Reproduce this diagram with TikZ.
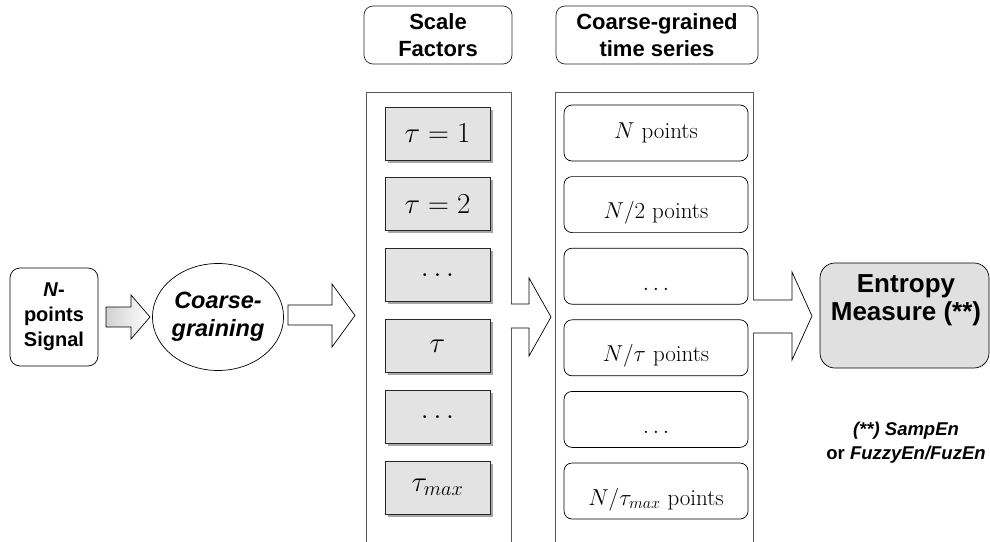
\RequirePackage{fix-cm}
\documentclass[tikz,border=0pt]{standalone}
\usepackage{fontspec}
\newfontfamily\arial{Liberation Sans}
\usetikzlibrary{shapes.geometric,shadows}

\begin{document}
\begin{tikzpicture}[x=1pt,y=-1pt,
  signalbox/.style={draw=black, rounded corners=10pt, line width=0.7pt,
    minimum width=88pt, minimum height=98pt, inner sep=0pt, align=center,
    font=\arial\bfseries\fontsize{20}{25}\selectfont},
  grainbox/.style={draw=black, ellipse, line width=0.7pt,
    minimum width=123pt, minimum height=107pt, inner sep=0pt, align=center,
    font=\arial\bfseries\itshape\fontsize{23.5}{28}\selectfont},
  titlebox/.style={draw=black!85, rounded corners=9pt, line width=0.7pt,
    minimum height=58pt, inner sep=0pt, align=center,
    font=\arial\bfseries\fontsize{22}{27}\selectfont},
  column/.style={draw=black!65, line width=1pt},
  scalebox/.style={draw=black!85, fill=black!11, line width=0.7pt,
    minimum width=105pt, minimum height=53pt, inner sep=0pt,
    drop shadow={shadow xshift=2.5pt, shadow yshift=-2.5pt, fill=black!35, opacity=1},
    font=\fontsize{29}{34}\selectfont},
  seriesbox/.style={draw=black, rounded corners=8pt, line width=0.7pt,
    minimum width=184pt, minimum height=56pt, inner sep=0pt},
  seriestext/.style={anchor=base, inner sep=0pt, font=\fontsize{23}{28}\selectfont},
  fatarrow/.style={draw=black, line width=0.7pt, line join=miter},
  entropybox/.style={draw=black, fill=black!12, rounded corners=15pt, line width=0.7pt,
    minimum width=169pt, minimum height=105pt, inner sep=0pt},
  boldtext/.style={align=center, inner sep=0pt}
]
\useasboundingbox (0,0) rectangle (990,541);

% input signal and coarse-graining step
\node[signalbox] (signal) at (54,317) {\textit{N}-\\points\\Signal};
\node[grainbox] (grain) at (218,317) {Coarse-\\graining};

% column headers
\node[titlebox, minimum width=148pt] (scaletitle) at (438,35) {Scale\\Factors};
\node[titlebox, minimum width=202pt] (seriestitle) at (657,35) {Coarse-grained\\time series};

% column frames (open at the bottom)
\draw[column] (366,545) -- (366,92) -- (511,92) -- (511,545);
\draw[column] (555,545) -- (555,92) -- (753,92) -- (753,545);

% scale factors
\node[scalebox] (s1) at (437.5,133.5) {$\tau=1$};
\node[scalebox] (s2) at (437.5,204.3) {$\tau=2$};
\node[scalebox] (s3) at (437.5,275.1) {$\dots$};
\node[scalebox] (s4) at (437.5,345.9) {$\tau$};
\node[scalebox] (s5) at (437.5,416.7) {$\dots$};
\node[scalebox] (s6) at (437.5,487.5) {$\tau_{max}$};

% coarse-grained series
\node[seriesbox] (c1) at (656,133.0) {};
\node[seriesbox] (c2) at (656,204.6) {};
\node[seriesbox] (c3) at (656,276.2) {};
\node[seriesbox] (c4) at (656,347.8) {};
\node[seriesbox] (c5) at (656,419.4) {};
\node[seriesbox] (c6) at (656,491.0) {};
\node[seriestext] (t1) at (656,138) {$N$ points};
\node[seriestext] (t2) at (656,218.6) {$N/2$ points};
\node[seriestext] (t3) at (656,290.2) {$\dots$};
\node[seriestext] (t4) at (656,361.8) {$N/\tau$ points};
\node[seriestext] (t5) at (656,433.4) {$\dots$};
\node[seriestext] (t6) at (656,505.0) {$N/\tau_{max}$ points};

% entropy measure
\node[entropybox] (entropy) at (904.5,315.5) {};
\node[boldtext, font=\arial\bfseries\fontsize{26}{28}\selectfont] (entropytext) at (906,300) {Entropy\\Measure (**)};
\node[boldtext, font=\arial\bfseries\fontsize{18.5}{24}\selectfont] (note) at (906,443)
  {\textit{(**) SampEn}\\or \textit{FuzzyEn/FuzEn}};

% block arrows
\draw[fatarrow, left color=black!18, right color=white]
  (106,307) -- (131,307) -- (131,295) -- (150,317) -- (131,339) -- (131,327) -- (106,327) -- cycle;
\draw[fatarrow, fill=white]
  (288,305) -- (332,305) -- (332,284) -- (355,315.5) -- (332,347) -- (332,325) -- (288,325) -- cycle;
\draw[fatarrow, fill=white]
  (511,304) -- (529,304) -- (529,278) -- (551,317) -- (529,356) -- (529,328) -- (511,328);
\draw[fatarrow, fill=white]
  (753,300) -- (792,300) -- (792,272) -- (812,316) -- (792,360) -- (792,333) -- (753,333);
\end{tikzpicture}
\end{document}
